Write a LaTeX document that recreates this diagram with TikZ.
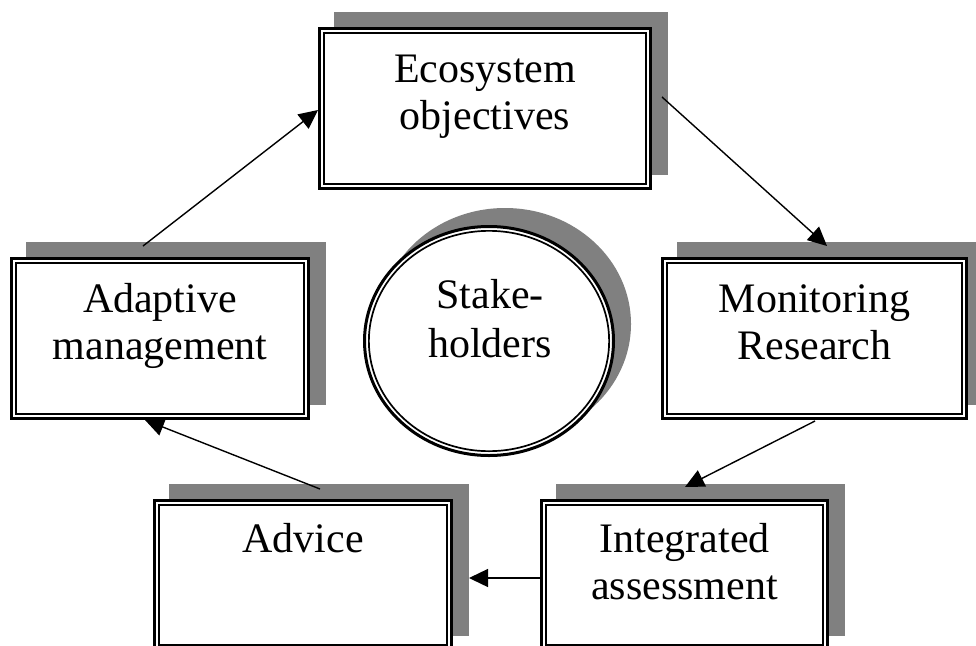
\documentclass[tikz,border=0pt]{standalone}
\usepackage{fontspec}
\setmainfont{Liberation Serif}
\usetikzlibrary{arrows.meta,calc,shapes.geometric}
\pgfdeclarelayer{shade}
\pgfdeclarelayer{links}
\pgfsetlayers{shade,links,main}
\begin{document}
\begin{tikzpicture}[x=1pt,y=-1pt,
  box/.style={rectangle, draw, line width=3pt, fill=white, inner sep=0pt, outer sep=0pt, minimum height=160pt},
  disc/.style={ellipse, draw, line width=3pt, fill=white, inner sep=0pt, outer sep=0pt, minimum width=249pt, minimum height=229pt},
  innerline/.style={line width=1.7pt},
  shadowfill/.style={fill=gray},
  caption/.style={font=\fontsize{42}{47}\selectfont, align=center, inner sep=0pt, outer sep=0pt, anchor=north},
  link/.style={line width=1.4pt, -{Triangle[length=19pt,width=18pt]}}
]
\useasboundingbox (0,0) rectangle (976,645);

% boxes (outer rule)
\node[box, minimum width=331pt] (eco) at (485,108.5) {};
\node[box, minimum width=297pt] (adapt) at (160,338.5) {};
\node[box, minimum width=304pt] (monit) at (814.5,338.5) {};
\node[box, minimum width=297pt, minimum height=149pt] (advice) at (303,575) {};
\node[box, minimum width=286pt, minimum height=149pt] (integ) at (684.5,575) {};
\node[disc] (stake) at (489,341) {};

% inner rule of the double borders
\foreach \n in {eco,adapt,monit,advice,integ}
  \draw[innerline] ($(\n.north west)+(4.35,4.35)$) rectangle ($(\n.south east)+(-4.35,-4.35)$);
\draw[innerline] (stake.center) ellipse[x radius=120.15pt, y radius=110.15pt];

% captions
\node[caption] (eco-t) at ($(eco.north)+(0,20.6)$) {\strut Ecosystem\\objectives};
\node[caption] (adapt-t) at ($(adapt.north)+(0,20.6)$) {\strut Adaptive\\management};
\node[caption] (monit-t) at ($(monit.north)+(0,20.6)$) {\strut Monitoring\\Research};
\node[caption] (advice-t) at ($(advice.north)+(0,18.6)$) {\strut Advice};
\node[caption] (integ-t) at ($(integ.north)+(0,18.6)$) {\strut Integrated\\assessment};
\node[caption] (stake-t) at ($(stake.center)+(1,-65.9)$) {\strut Stake-\\[2pt]holders};

% drop shadows
\begin{pgfonlayer}{shade}
  \fill[white] (0,0) rectangle (976,645);
  \foreach \n in {eco,adapt,monit,advice,integ}
    \fill[shadowfill] ($(\n.north west)+(14.5,-17)$) rectangle ($(\n.south east)+(17.5,-14)$);
  \fill[shadowfill] ($(stake.center)+(16,-17)$) ellipse[x radius=126pt, y radius=116pt];
\end{pgfonlayer}

% cycle of arrows
\begin{pgfonlayer}{links}
  \draw[link] ($(adapt.north west)+(131.5,-12.5)$) -- ($(eco.west)+(-1.5,1.5)$);
  \draw[link] ($(eco.east)+(11.5,-11.5)$) -- ($(monit.north)+(12.5,-12.5)$);
  \draw[link] ($(monit.south)+(0.5,2.5)$) -- ($(integ.north)+(0.5,-13.5)$);
  \draw[link] ($(integ.west)+(-1.5,3)$) -- ($(advice.east)+(17.5,3)$);
  \draw[link] ($(advice.north)+(17,-11.5)$) -- ($(adapt.south)+(-15,1.5)$);
\end{pgfonlayer}
\end{tikzpicture}
\end{document}
